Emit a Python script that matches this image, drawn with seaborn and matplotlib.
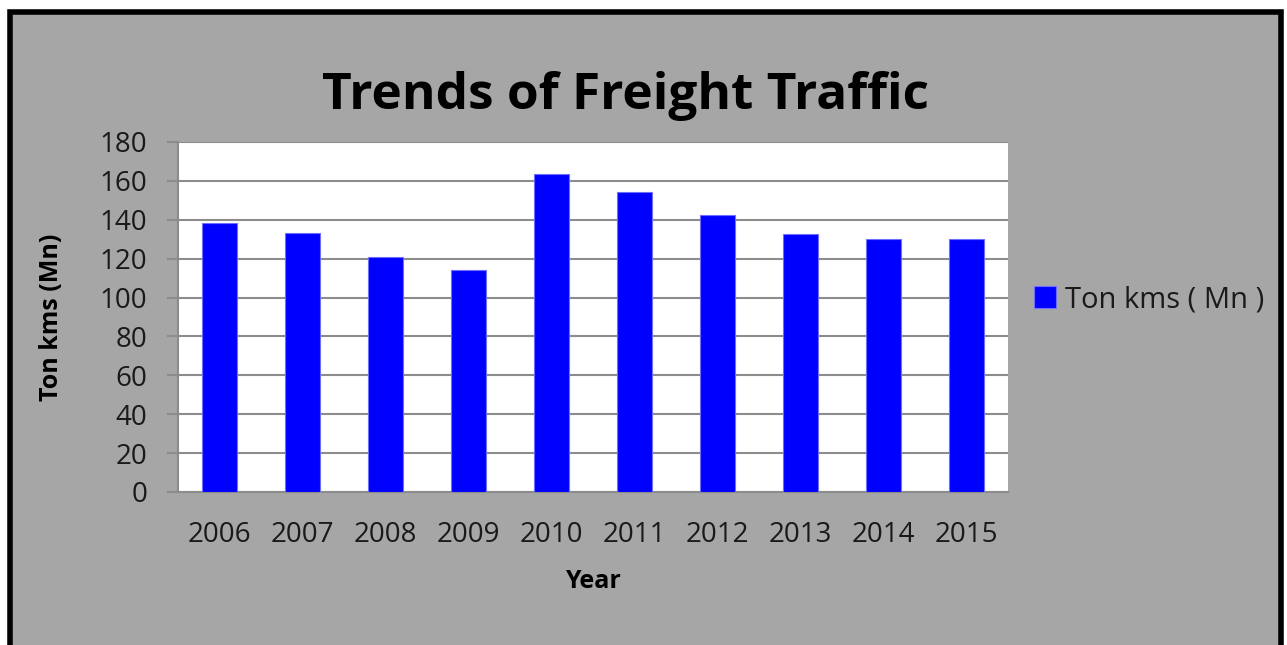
import numpy as np
import pandas as pd
import seaborn as sns
import matplotlib.pyplot as plt
from matplotlib.patches import Rectangle

# Data
years = ['2006', '2007', '2008', '2009', '2010', '2011', '2012', '2013', '2014', '2015']
ton_kms = [138.3, 133.2, 120.8, 114.3, 163.3, 154.3, 142.7, 132.5, 130.3, 130.3]

df = pd.DataFrame({'Year': years, 'Ton kms ( Mn )': ton_kms})

sns.set_theme(style='white')
plt.rcParams['font.family'] = ['Open Sans', 'DejaVu Sans']

bg = '#a6a6a6'
fig = plt.figure(figsize=(12.87, 6.45), dpi=100, facecolor='white')

# grey panel with black frame, behind everything
fig.patches.append(Rectangle((9.5 / 1287, -0.05), (1280.5 - 9.5) / 1287, 1.05 - 12 / 645,
                             transform=fig.transFigure, facecolor=bg, edgecolor='black',
                             linewidth=4, zorder=-5))

ax = fig.add_axes([178 / 1287, 1 - 492 / 645, (1008 - 178) / 1287, (492 - 142) / 645])
ax.set_zorder(2)
ax.set_facecolor('white')

sns.barplot(data=df, x='Year', y='Ton kms ( Mn )', color='#0000ff', width=0.42,
            saturation=1, ax=ax, label='Ton kms ( Mn )', zorder=3,
            edgecolor='#6f6fff', linewidth=0.8)

ax.set_ylim(0, 180)
ax.set_yticks(np.arange(0, 181, 20))
ax.set_xlim(-0.5, len(years) - 0.5)
ax.yaxis.grid(True, color='#8c8c8c', linewidth=1.5, zorder=0)
ax.xaxis.grid(False)
ax.set_axisbelow(True)

for side in ['top', 'right']:
    ax.spines[side].set_visible(False)
for side in ['left', 'bottom']:
    ax.spines[side].set_color('#8c8c8c')
    ax.spines[side].set_linewidth(1.5)

ax.tick_params(axis='y', which='major', left=True, length=8, width=1.5, color='#8c8c8c',
               pad=14, labelsize=20, labelcolor='#1a1a1a')
ax.tick_params(axis='x', which='major', bottom=False, pad=15, labelsize=20, labelcolor='#1a1a1a')

ax.set_xlabel('Year', fontsize=18, fontweight='bold', labelpad=14, color='black')
ax.set_ylabel('Ton kms (Mn)', fontsize=18, fontweight='bold', labelpad=26, color='black')

fig.text(625 / 1287, 1 - 96 / 645, 'Trends of Freight Traffic', fontsize=37,
         fontweight='bold', ha='center', va='center', color='black')

ax.legend(loc='center left', bbox_to_anchor=(1.0, 0.55), frameon=False, fontsize=21,
          handlelength=0.75, handleheight=0.75, handletextpad=0.3, labelcolor='#1a1a1a')

fig.savefig('out.png', dpi=100, facecolor=fig.get_facecolor())
